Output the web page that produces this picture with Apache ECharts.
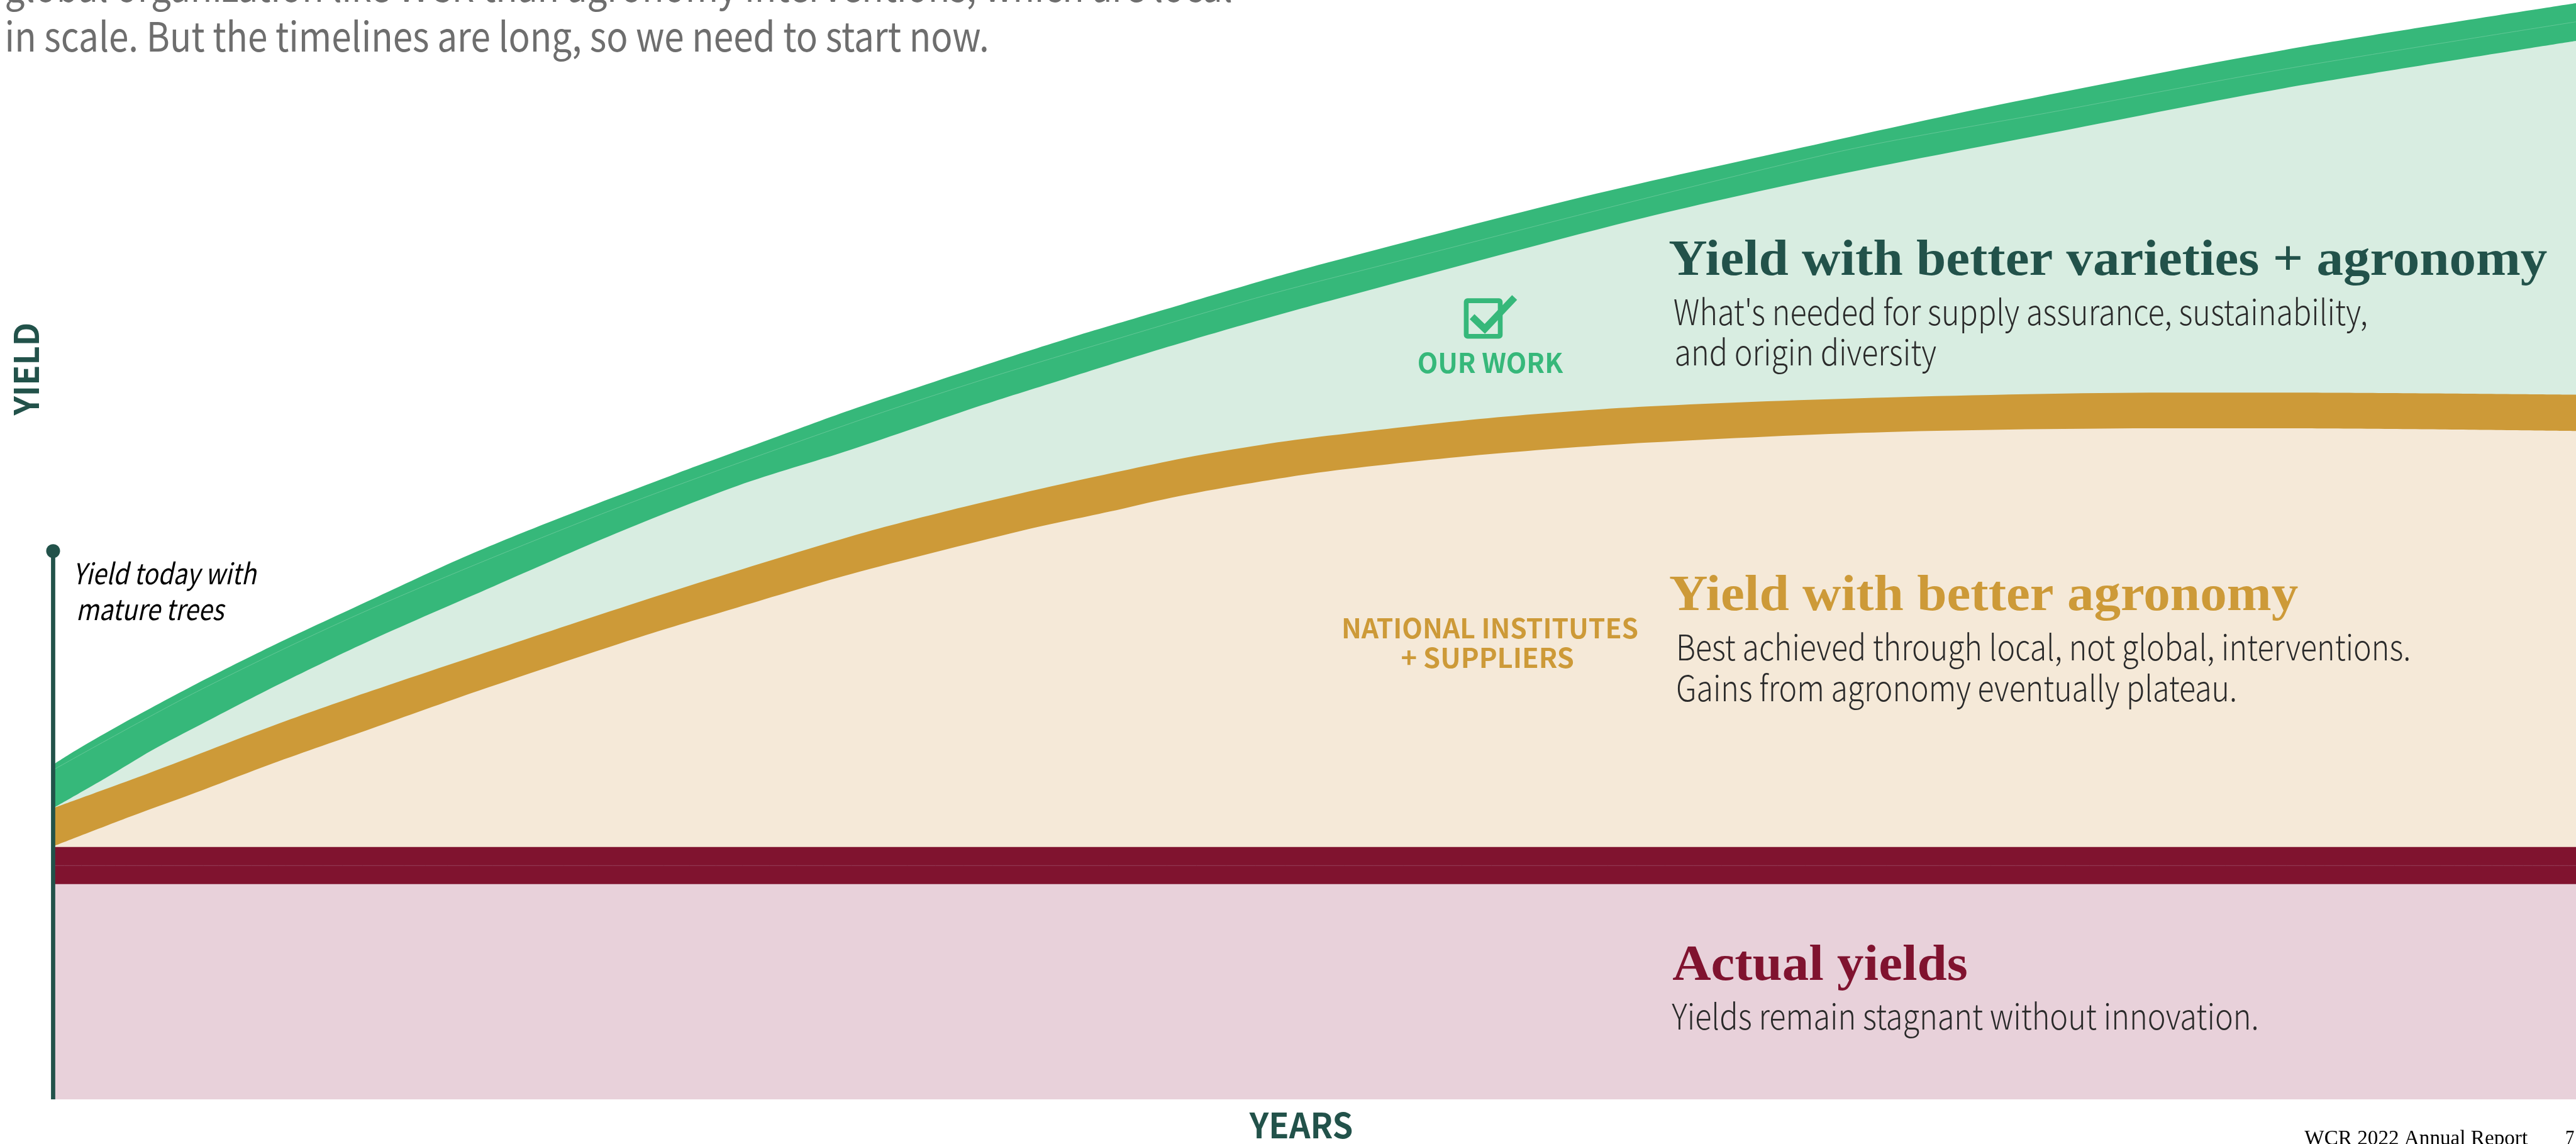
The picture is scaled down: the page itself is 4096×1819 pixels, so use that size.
<!DOCTYPE html>
<html>
<head>
<meta charset="utf-8">
<title>WCR yield chart</title>
<script src="https://cdn.jsdelivr.net/npm/echarts@6/dist/echarts.min.js"></script>
<style>
html, body { margin: 0; padding: 0; background: #fff; }
#main { width: 4096px; height: 1819px; }
</style>
</head>
<body>
<div id="main"></div>
<script>
// the chart has no ticks, so values are read off the picture:
// [years from the axis, yield above the baseline], in reference pixels
var greenTop = [[0,630],[43,657],[132,708],[270,782],[418,856],[600,941],[772,1020],[933,1086],[1174,1178],[1346,1241],[1500,1297],[1751,1381],[1910,1432],[2074,1481],[2246,1532],[2400,1575],[2882,1699],[3295,1792],[3663,1872],[4200,1975],[4749,2063]];
var greenMid = [[0,620],[270,767],[600,924],[1059,1112],[1500,1272],[1758,1357],[2005,1432],[2246,1503],[2400,1544],[3341,1779],[3778,1861],[4200,1939],[4749,2028]];
var greenBottom = [[0,548],[101,606],[186,657],[279,706],[427,782],[600,865],[830,966],[1059,1065],[1289,1155],[1500,1222],[1750,1307],[1905,1356],[2068,1407],[2238,1457],[2400,1502],[2974,1654],[3318,1732],[3778,1822],[4200,1903],[4749,1992]];
var goldTop = [[0,548],[159,606],[293,657],[427,708],[600,769],[887,865],[1174,959],[1500,1059],[1678,1106],[1890,1156],[2129,1207],[2275,1232],[2400,1249],[2701,1282],[3001,1304],[3453,1321],[3979,1330],[4200,1330],[4749,1326]];
var goldBottom = [[0,476],[145,532],[284,583],[413,632],[600,698],[801,769],[1117,874],[1289,926],[1500,988],[1819,1069],[1988,1106],[2103,1132],[2238,1157],[2400,1182],[2701,1214],[3001,1236],[3453,1256],[3979,1263],[4200,1263],[4749,1258]];
var redTop = [[0,475],[4749,475]];
var redMid = [[0,440],[4749,440]];
var redBottom = [[0,405],[4749,405]];
var todayMarker = [[0,0],[0,1032]];

var S = 4096 / 4849;
var SANS = '"Noto Sans CJK SC"';
var SERIF = '"Liberation Serif"';
var DARK = '#22524a', GREEN = '#36b87a', GOLD = '#cd9a38', RED = '#80132f';
var BODY = '#2a2a2a';

// text, left, baseline, width, size (all in reference pixels), font, weight, colour
var labels = [
    ['global organization like WCR than agronomy interventions, which are local', 9, 3, 2311, 76, SANS, 400, '#6e6e6e'],
    ['in scale. But the timelines are long, so we need to start now.', 9, 97, 1853, 76, SANS, 400, '#6e6e6e'],
    ['Yield with better varieties + agronomy', 3141, 518, 1654, 96, SERIF, 700, DARK],
    ["What's needed for supply assurance, sustainability,", 3150, 612, 1307, 66, SANS, 300, BODY],
    ['and origin diversity', 3152, 688, 493, 66, SANS, 300, BODY],
    ['OUR WORK', 2668, 702, 274, 51, SANS, 700, GREEN],
    ['Yield with better agronomy', 3142, 1150, 1184, 96, SERIF, 700, GOLD],
    ['Best achieved through local, not global, interventions.', 3155, 1243, 1383, 66, SANS, 300, BODY],
    ['Gains from agronomy eventually plateau.', 3155, 1320, 1056, 66, SANS, 300, BODY],
    ['NATIONAL INSTITUTES', 2525, 1202, 559, 51, SANS, 700, GOLD],
    ['+ SUPPLIERS', 2637, 1257, 326, 51, SANS, 700, GOLD],
    ['Actual yields', 3148, 1846, 556, 96, SERIF, 700, RED],
    ['Yields remain stagnant without innovation.', 3147, 1938, 1105, 66, SANS, 300, BODY],
    ['Yield today with', 137, 1100, 345, 54, SANS, 400, '#000', 'italic'],
    ['mature trees', 143, 1167, 278, 54, SANS, 400, '#000', 'italic'],
    ['YEARS', 2352, 2143, 195, 65, SANS, 700, DARK],
    ['WCR 2022 Annual Report', 4338, 2155, 420, 40, SERIF, 400, '#000'],
    ['7', 4829, 2155, 17, 40, SERIF, 400, '#000']
];

var measure = document.createElement('canvas').getContext('2d');

function fontOf(size, family, weight, style) {
    return (style || 'normal') + ' ' + weight + ' ' + size + 'px ' + family;
}

// middle-aligned text sits this share of the font size above its baseline
function midOffset(family) {
    return family === SERIF ? 0.27 : 0.38;
}

function makeLabel(l) {
    var size = l[4] * S;
    measure.font = fontOf(size, l[5], l[6], l[8]);
    return {
        type: 'text',
        z: 100,
        silent: true,
        x: l[1] * S,
        y: (l[2] - midOffset(l[5]) * l[4]) * S,
        scaleX: l[3] * S / measure.measureText(l[0]).width,
        style: {
            text: l[0],
            fill: l[7],
            font: fontOf(size, l[5], l[6], l[8]),
            align: 'left',
            verticalAlign: 'middle'
        }
    };
}

// rotated axis title, reads bottom to top
var yieldSize = 64;
measure.font = fontOf(yieldSize * S, SANS, 700);
var yieldLabel = {
    type: 'text',
    z: 100,
    silent: true,
    x: (73 - 0.38 * yieldSize) * S,
    y: 782 * S,
    rotation: Math.PI / 2,
    scaleX: 175 * S / measure.measureText('YIELD').width,
    style: { text: 'YIELD', fill: DARK, font: fontOf(yieldSize * S, SANS, 700), align: 'left', verticalAlign: 'middle' }
};

// check box next to OUR WORK
var checkBox = {
    type: 'rect',
    z: 100,
    silent: true,
    shape: { x: 2760 * S, y: 566 * S, width: 64 * S, height: 67 * S, r: 2 },
    style: { fill: 'none', stroke: GREEN, lineWidth: 9 * S }
};
var checkMark = {
    type: 'polyline',
    z: 101,
    silent: true,
    shape: { points: [[2771 * S, 596 * S], [2795 * S, 619 * S], [2851 * S, 560 * S]] },
    style: { fill: 'none', stroke: GREEN, lineWidth: 13 * S }
};

function band(name, data, colour) {
    return {
        name: name,
        type: 'line',
        data: data,
        smooth: 0.3,
        symbol: 'none',
        silent: true,
        lineStyle: { width: 0 },
        areaStyle: { color: colour, opacity: 1, origin: 'start' }
    };
}

function divider(name, data, colour) {
    return {
        name: name,
        type: 'line',
        data: data,
        smooth: 0.3,
        symbol: 'none',
        silent: true,
        lineStyle: { width: 1, color: colour }
    };
}

var chart = echarts.init(document.getElementById('main'));
chart.setOption({
    animation: false,
    backgroundColor: '#fff',
    grid: { left: 100 * S, right: 0, top: 0, bottom: (2153 - 2069) * S },
    xAxis: { type: 'value', min: 0, max: 4749, show: false },
    yAxis: { type: 'value', min: 0, max: 2069, show: false },
    graphic: labels.map(makeLabel).concat([yieldLabel, checkBox, checkMark]),
    series: [
        band('Better varieties edge', greenTop, GREEN),
        divider('Better varieties centre', greenMid, '#63c796'),
        band('Yield with better varieties + agronomy', greenBottom, '#d8ede1'),
        band('Better agronomy edge', goldTop, GOLD),
        band('Yield with better agronomy', goldBottom, '#f5e9d8'),
        band('Actual yields edge', redTop, RED),
        divider('Actual yields centre', redMid, '#94405b'),
        band('Actual yields', redBottom, '#e8d1da'),
        {
            name: 'Yield today with mature trees',
            type: 'line',
            data: todayMarker,
            clip: false,
            z: 5,
            silent: true,
            symbol: 'circle',
            symbolSize: function (value) { return value[1] > 0 ? 26 * S : 0; },
            itemStyle: { color: DARK },
            lineStyle: { width: 8 * S, color: DARK }
        }
    ]
});
</script>
</body>
</html>
